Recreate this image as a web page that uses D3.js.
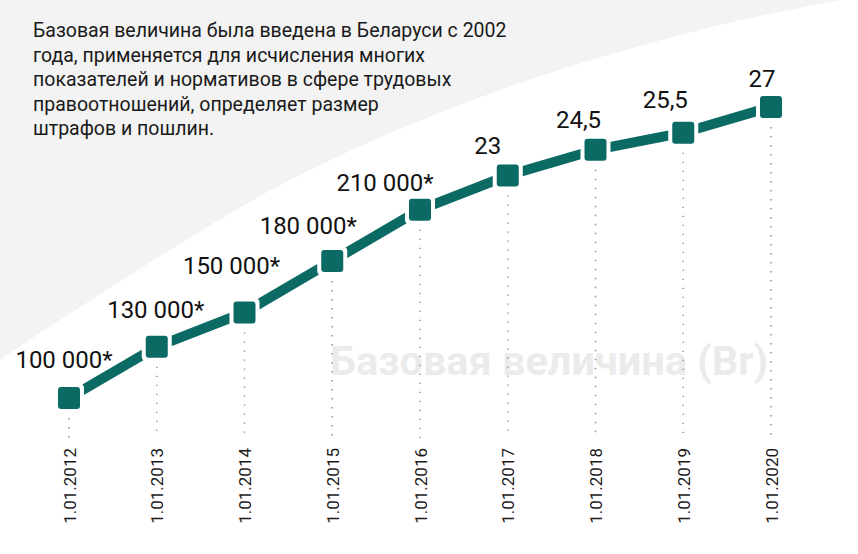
<!DOCTYPE html>
<html><head><meta charset="utf-8">
<script src="https://cdn.jsdelivr.net/npm/d3@7"></script>
<style>html,body{margin:0;padding:0;background:#fff;}svg{display:block;}</style>
</head><body>
<svg id="c" width="858" height="554"></svg>
<script>
const dates = ["1.01.2012","1.01.2013","1.01.2014","1.01.2015","1.01.2016","1.01.2017","1.01.2018","1.01.2019","1.01.2020"];
const values = [10, 13, 15, 18, 21, 23, 24.5, 25.5, 27];
const valueLabels = ["100 000*","130 000*","150 000*","180 000*","210 000*","23","24,5","25,5","27"];
const labelNudge = [[-5,-30],[-1,-29],[-13,-38],[-24,-27],[-35,-19],[-20,-21],[-17,-22],[-18,-25],[-9,-20]];
const intro = ["Базовая величина была введена в Беларуси с 2002","года, применяется для исчисления многих","показателей и нормативов в сфере трудовых","правоотношений, определяет размер","штрафов и пошлин."];
const watermark = "Базовая величина (Br)";

const svg = d3.select("#c");
const teal = "#0c6a65";
const font = "Roboto, 'Noto Sans', sans-serif";

// background decorative gray area
const bgPts = [[0,360],[57,322],[290,180],[500,90],[700,30],[840,0]];
const area = d3.line().curve(d3.curveCatmullRom)(bgPts);
svg.append("path").attr("d", area + "L858,0L0,0Z").attr("fill","#f3f3f3");

const x = d3.scalePoint().domain(dates).range([69, 771]);
const y = d3.scaleLinear().domain([10, 27]).range([398, 107]);

// watermark
svg.append("text").attr("x", 330).attr("y", 375).text(watermark)
  .attr("font-family", font).attr("font-weight", 700).attr("font-size", 41)
  .attr("textLength", 438).attr("lengthAdjust", "spacingAndGlyphs")
  .attr("fill", "#ebebeb");

// intro text
svg.append("g").selectAll("text").data(intro).join("text")
  .attr("x", 33).attr("y", (d,i) => 37 + i*24.6)
  .attr("font-family", font).attr("font-size", 19.5).attr("fill", "#1a1a1a")
  .text(d => d);

// dotted guides
svg.append("g").selectAll("line").data(dates).join("line")
  .attr("x1", d => x(d)).attr("x2", d => x(d))
  .attr("y1", (d,i) => y(values[i]) + 20).attr("y2", 438)
  .attr("stroke", "#8a8a8a").attr("stroke-width", 1.4)
  .attr("stroke-dasharray", "1.4,7.6");

// x labels
svg.append("g").selectAll("text").data(dates).join("text")
  .attr("transform", d => `translate(${x(d)+6.5},448) rotate(-90)`)
  .attr("text-anchor", "end")
  .attr("font-family", font).attr("font-size", 17).attr("fill", "#1a1a1a")
  .text(d => d);

// line
const line = d3.line().x((d,i) => x(dates[i])).y(d => y(d));
svg.append("path").attr("d", line(values)).attr("fill","none")
  .attr("stroke", teal).attr("stroke-width", 10);

// markers
const g = svg.append("g").selectAll("g").data(values).join("g")
  .attr("transform", (d,i) => `translate(${x(dates[i])},${y(d)})`);
g.append("rect").attr("x",-15).attr("y",-15).attr("width",30).attr("height",30).attr("rx",5).attr("fill","#fff");
g.append("rect").attr("x",-11).attr("y",-11).attr("width",22).attr("height",22).attr("rx",3).attr("fill",teal);

// value labels
svg.append("g").selectAll("text").data(values).join("text")
  .attr("x", (d,i) => x(dates[i]) + labelNudge[i][0])
  .attr("y", (d,i) => y(d) + labelNudge[i][1])
  .attr("text-anchor", "middle")
  .attr("font-family", font).attr("font-size", 24).attr("fill", "#111")
  .text((d,i) => valueLabels[i]);
</script>
</body></html>
